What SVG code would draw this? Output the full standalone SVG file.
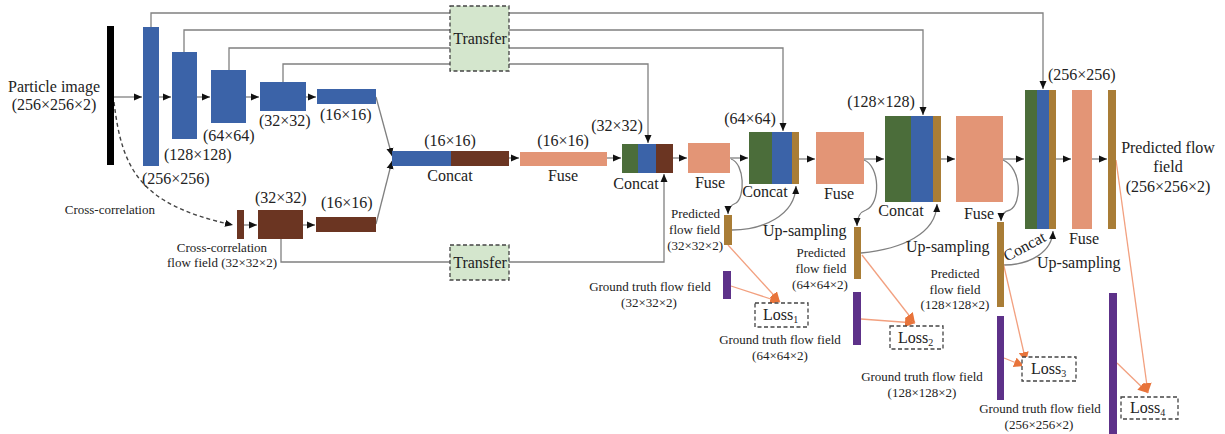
<svg xmlns="http://www.w3.org/2000/svg" width="1225" height="434" viewBox="0 0 1225 434">
<style>
text{font-family:"Liberation Serif","Times New Roman",serif;fill:#222}
.t16{font-size:16px}
.t13{font-size:13px}
.m{text-anchor:middle}
.e{text-anchor:end}
.ln{fill:none;stroke:#808080;stroke-width:1.3}
.ol{fill:none;stroke:#f2a07f;stroke-width:1.3}
.blue{fill:#3b63a8}
.brown{fill:#6b3522}
.green{fill:#4b6d3a}
.gold{fill:#a97d36}
.salmon{fill:#e39576}
.purple{fill:#5d3189}
.tr{fill:#d4e6cd;stroke:#444;stroke-width:1.3;stroke-dasharray:4 2.5}
.loss{fill:#fff;stroke:#444;stroke-width:1.3;stroke-dasharray:4 2.5}
</style>
<defs>
<marker id="ah" markerUnits="userSpaceOnUse" markerWidth="9" markerHeight="8" refX="8" refY="4" orient="auto"><path d="M0,0.5 L8,4 L0,7.5 z" fill="#111"/></marker>
<marker id="oh" markerUnits="userSpaceOnUse" markerWidth="11" markerHeight="10" refX="10" refY="5" orient="auto"><path d="M0,0 L10,5 L0,10 z" fill="#e8743b"/></marker>
</defs>
<rect width="1225" height="434" fill="#fff"/>

<g id="connectors">
<!-- skip connections -->
<path class="ln" d="M151,27 V13 H1043 V89" marker-end="url(#ah)"/>
<path class="ln" d="M184,52 V30 H923 V115" marker-end="url(#ah)"/>
<path class="ln" d="M229,70 V48 H783 V131" marker-end="url(#ah)"/>
<path class="ln" d="M283,82 V64 H648 V143" marker-end="url(#ah)"/>
<path class="ln" d="M281,239 V262 H664 V174" marker-end="url(#ah)"/>
<!-- main chain -->
<path class="ln" d="M114,97 H142" marker-end="url(#ah)"/>
<path class="ln" d="M159,97 H171" marker-end="url(#ah)"/>
<path class="ln" d="M197,97 H210" marker-end="url(#ah)"/>
<path class="ln" d="M246,97 H259" marker-end="url(#ah)"/>
<path class="ln" d="M306,97 H316" marker-end="url(#ah)"/>
<path class="ln" d="M376,97 L392,156" marker-end="url(#ah)"/>
<path class="ln" d="M376,224 L392,161" marker-end="url(#ah)"/>
<path fill="none" stroke="#444" stroke-width="1.4" stroke-dasharray="4 3" d="M114,102 C122,170 140,205 233,225" marker-end="url(#ah)"/>
<path class="ln" d="M244,225 H257" marker-end="url(#ah)"/>
<path class="ln" d="M303,225 H315" marker-end="url(#ah)"/>
<path class="ln" d="M509,158 H519" marker-end="url(#ah)"/>
<path class="ln" d="M607,158 H621" marker-end="url(#ah)"/>
<path class="ln" d="M673,158 H687" marker-end="url(#ah)"/>
<path class="ln" d="M730,158 H748" marker-end="url(#ah)"/>
<path class="ln" d="M799,159 H815" marker-end="url(#ah)"/>
<path class="ln" d="M864,159 H884" marker-end="url(#ah)"/>
<path class="ln" d="M941,159 H955" marker-end="url(#ah)"/>
<path class="ln" d="M1003,159 H1024" marker-end="url(#ah)"/>
<path class="ln" d="M1056,159 H1071" marker-end="url(#ah)"/>
<path class="ln" d="M1092,159 H1107" marker-end="url(#ah)"/>
<!-- fuse to predicted -->
<path class="ln" d="M731,159 C745,164 745,197 736,203 Q728,206 728,214" marker-end="url(#ah)"/>
<path class="ln" d="M864,160 C880,166 881,204 866,210 Q857,213 857,226" marker-end="url(#ah)"/>
<path class="ln" d="M1003,160 C1022,168 1022,204 1010,210 Q1001,212 1001,221" marker-end="url(#ah)"/>
<!-- up-sampling -->
<path class="ln" d="M732,230 C762,230 795,216 796,186" marker-end="url(#ah)"/>
<path class="ln" d="M861,253 C902,249 936,234 937,204" marker-end="url(#ah)"/>
<path class="ln" d="M1004,265 C1030,265 1052,252 1053,231" marker-end="url(#ah)"/>
<!-- loss -->
<path class="ol" d="M728,245 L780,302" marker-end="url(#oh)"/>
<path class="ol" d="M731,286 L780,302" marker-end="url(#oh)"/>
<path class="ol" d="M862,255 L915,323" marker-end="url(#oh)"/>
<path class="ol" d="M861,319 L915,323" marker-end="url(#oh)"/>
<path class="ol" d="M1003,262 L1026,362" marker-end="url(#oh)"/>
<path class="ol" d="M1004,358 L1024,366" marker-end="url(#oh)"/>
<path class="ol" d="M1116,160 L1148,393" marker-end="url(#oh)"/>
<path class="ol" d="M1117,363 L1148,393" marker-end="url(#oh)"/>
</g>

<g id="input">
<rect x="107" y="26" width="7" height="139" fill="#000"/>
<text class="t16 m" x="54" y="92">Particle image</text>
<text class="t16 m" x="54" y="110">(256×256×2)</text>
</g>

<g id="enc256"><rect class="blue" x="143" y="27" width="16" height="139"/><text class="t16" x="142" y="184">(256×256)</text></g>
<g id="enc128"><rect class="blue" x="172" y="52" width="25" height="87"/><text class="t16" x="164" y="160">(128×128)</text></g>
<g id="enc64"><rect class="blue" x="211" y="70" width="35" height="53"/><text class="t16" x="203" y="141">(64×64)</text></g>
<g id="enc32"><rect class="blue" x="260" y="82" width="46" height="29"/><text class="t16" x="259" y="126">(32×32)</text></g>
<g id="enc16"><rect class="blue" x="317" y="89" width="59" height="15"/><text class="t16" x="320" y="120">(16×16)</text></g>

<g id="crosscorr">
<text class="t13 e" x="155" y="214">Cross-correlation</text>
<rect class="brown" x="237" y="210" width="7" height="29"/>
<text class="t13 m" x="222" y="252">Cross-correlation</text>
<text class="t13 m" x="222" y="267">flow field (32×32×2)</text>
</g>
<g id="cc32"><rect class="brown" x="258" y="210" width="45" height="29"/><text class="t16" x="255" y="203">(32×32)</text></g>
<g id="cc16"><rect class="brown" x="316" y="217" width="60" height="15"/><text class="t16" x="321" y="208">(16×16)</text></g>

<g id="transfer1"><rect class="tr" x="450" y="6" width="59" height="65"/><text class="t16 m" x="480" y="44">Transfer</text></g>
<g id="transfer2"><rect class="tr" x="450" y="245" width="59" height="35"/><text class="t16 m" x="480" y="268">Transfer</text></g>

<g id="concat16">
<rect class="blue" x="392" y="151" width="59" height="15"/><rect class="brown" x="451" y="151" width="58" height="15"/>
<text class="t16 m" x="450" y="146">(16×16)</text><text class="t16 m" x="450" y="181">Concat</text>
</g>
<g id="fuse16"><rect class="salmon" x="520" y="152" width="87" height="14"/><text class="t16 m" x="563" y="146">(16×16)</text><text class="t16 m" x="563" y="181">Fuse</text></g>

<g id="concat32">
<rect class="green" x="622" y="144" width="16" height="29"/><rect class="blue" x="638" y="144" width="18" height="29"/><rect class="brown" x="656" y="144" width="17" height="29"/>
<text class="t16 m" x="617" y="131">(32×32)</text><text class="t16 m" x="636" y="189">Concat</text>
</g>
<g id="fuse32"><rect class="salmon" x="688" y="143" width="42" height="30"/><text class="t16 m" x="710" y="188">Fuse</text></g>
<g id="pred32">
<rect class="gold" x="724" y="215" width="8" height="30"/>
<text class="t13 e" x="720" y="218">Predicted</text><text class="t13 e" x="720" y="234">flow field</text><text class="t13 e" x="723" y="250">(32×32×2)</text>
<text class="t16" x="763" y="236">Up-sampling</text>
</g>
<g id="gt32"><rect class="purple" x="723" y="271" width="8" height="28"/><text class="t13 m" x="650" y="291">Ground truth flow field</text><text class="t13 m" x="649" y="307">(32×32×2)</text></g>
<g id="loss1"><rect class="loss" x="755" y="303" width="53" height="24"/><text class="t16" x="763" y="320">Loss<tspan font-size="10" dy="3">1</tspan></text></g>

<g id="concat64">
<rect class="green" x="749" y="132" width="23" height="52"/><rect class="blue" x="772" y="132" width="20" height="52"/><rect class="gold" x="792" y="132" width="7" height="52"/>
<text class="t16 m" x="750" y="124">(64×64)</text><text class="t16 m" x="765" y="197">Concat</text>
</g>
<g id="fuse64"><rect class="salmon" x="816" y="132" width="48" height="52"/><text class="t16 m" x="839" y="199">Fuse</text></g>
<g id="pred64">
<rect class="gold" x="854" y="227" width="7" height="52"/>
<text class="t13 m" x="821" y="257">Predicted</text><text class="t13 m" x="821" y="273">flow field</text><text class="t13 m" x="820" y="289">(64×64×2)</text>
<text class="t16" x="906" y="252">Up-sampling</text>
</g>
<g id="gt64"><rect class="purple" x="853" y="292" width="8" height="53"/><text class="t13 m" x="780" y="344">Ground truth flow field</text><text class="t13 m" x="780" y="360">(64×64×2)</text></g>
<g id="loss2"><rect class="loss" x="890" y="326" width="53" height="23"/><text class="t16" x="898" y="343">Loss<tspan font-size="10" dy="3">2</tspan></text></g>

<g id="concat128">
<rect class="green" x="885" y="116" width="26" height="86"/><rect class="blue" x="911" y="116" width="22" height="86"/><rect class="gold" x="933" y="116" width="8" height="86"/>
<text class="t16 m" x="881" y="107">(128×128)</text><text class="t16 m" x="901" y="216">Concat</text>
</g>
<g id="fuse128"><rect class="salmon" x="956" y="116" width="47" height="86"/><text class="t16 m" x="979" y="219">Fuse</text></g>
<g id="pred128">
<rect class="gold" x="997" y="222" width="7" height="85"/>
<text class="t13 m" x="955" y="278">Predicted</text><text class="t13 m" x="955" y="294">flow field</text><text class="t13 m" x="955" y="309">(128×128×2)</text>
<text class="t16" x="1037" y="268">Up-sampling</text>
</g>
<g id="gt128"><rect class="purple" x="997" y="316" width="7" height="84"/><text class="t13 m" x="922" y="381">Ground truth flow field</text><text class="t13 m" x="922" y="397">(128×128×2)</text></g>
<g id="loss3"><rect class="loss" x="1022" y="357" width="54" height="24"/><text class="t16" x="1031" y="374">Loss<tspan font-size="10" dy="3">3</tspan></text></g>

<g id="concat256">
<rect class="green" x="1025" y="90" width="12" height="139"/><rect class="blue" x="1037" y="90" width="12" height="139"/><rect class="gold" x="1049" y="90" width="7" height="139"/>
<text class="t16" x="1048" y="80">(256×256)</text>
<text class="t16 m" x="1027" y="251" transform="rotate(-28 1027 251)">Concat</text>
</g>
<g id="fuse256"><rect class="salmon" x="1072" y="90" width="20" height="139"/><text class="t16 m" x="1084" y="244">Fuse</text></g>
<g id="pred256">
<rect class="gold" x="1108" y="90" width="8" height="139"/>
<text class="t16 m" x="1168" y="153">Predicted flow</text><text class="t16 m" x="1168" y="172">field</text><text class="t16 m" x="1168" y="192">(256×256×2)</text>
</g>
<g id="gt256"><rect class="purple" x="1109" y="293" width="8" height="141"/><text class="t13 m" x="1040" y="413">Ground truth flow field</text><text class="t13 m" x="1039" y="429">(256×256×2)</text></g>
<g id="loss4"><rect class="loss" x="1121" y="397" width="57" height="22"/><text class="t16" x="1130" y="413">Loss<tspan font-size="10" dy="3">4</tspan></text></g>
</svg>
